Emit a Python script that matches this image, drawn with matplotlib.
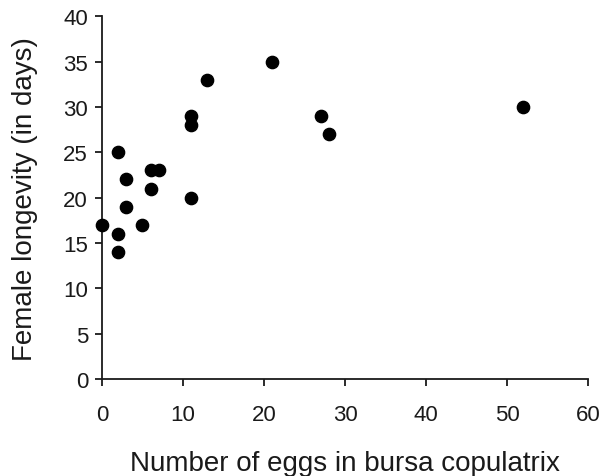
import matplotlib
matplotlib.use("Agg")
import matplotlib.pyplot as plt

# data
eggs = [0, 2, 2, 2, 3, 3, 5, 6, 6, 7, 11, 11, 11, 13, 21, 27, 28, 52]
longevity = [17, 25, 16, 14, 22, 19, 17, 21, 23, 23, 20, 28, 29, 33, 35, 29, 27, 30]

x_ticks = [0, 10, 20, 30, 40, 50, 60]
y_ticks = [0, 5, 10, 15, 20, 25, 30, 35, 40]

plt.rcParams["font.family"] = ["Liberation Sans", "DejaVu Sans"]
ink = "#1a1a1a"

fig = plt.figure(figsize=(6.01, 4.77), dpi=100)
ax = fig.add_axes([0.1697, 0.2034, 0.8087, 0.7606])

ax.scatter(eggs, longevity, s=78, color="black", zorder=3, clip_on=False)

ax.set_xlim(0, 60)
ax.set_ylim(0, 40)
ax.set_xticks(x_ticks)
ax.set_yticks(y_ticks)

for side in ("top", "right"):
    ax.spines[side].set_visible(False)
for side in ("left", "bottom"):
    ax.spines[side].set_color(ink)
    ax.spines[side].set_linewidth(1.3)

ax.tick_params(axis="both", direction="out", length=5, width=1.3,
               colors=ink, labelsize=16)
ax.tick_params(axis="x", pad=13)
ax.tick_params(axis="y", pad=5)

ax.set_xlabel("Number of eggs in bursa copulatrix", fontsize=20, color=ink)
ax.set_ylabel("Female longevity (in days)", fontsize=20, color=ink)
ax.xaxis.set_label_coords(0.5, -0.197)
ax.yaxis.set_label_coords(-0.132, 0.5)

fig.savefig("out.png", dpi=100)
